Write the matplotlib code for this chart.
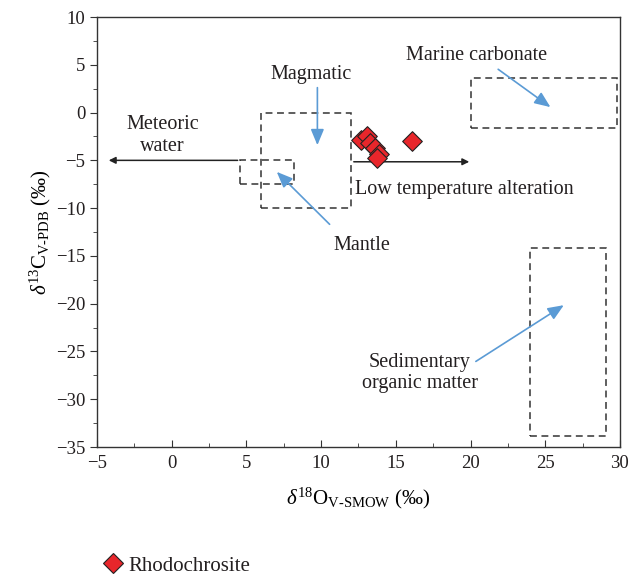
import matplotlib.pyplot as plt
from matplotlib.patches import Rectangle
from matplotlib.lines import Line2D

plt.rcParams['font.family'] = ['Liberation Serif', 'DejaVu Serif']
plt.rcParams['mathtext.fontset'] = 'custom'
plt.rcParams['mathtext.rm'] = 'Liberation Serif'
plt.rcParams['mathtext.it'] = 'Liberation Serif:italic'
plt.rcParams['text.color'] = '#231f20'

# Rhodochrosite isotope values
d18O = [12.7, 13.05, 13.3, 13.6, 13.85, 13.75, 16.1]
d13C = [-2.9, -2.5, -3.2, -3.7, -4.3, -4.8, -3.0]

# source fields (x0, x1, y0, y1)
magmatic_box = (6, 12, 0, -10)
mantle_box = (4.6, 8.2, -5.0, -7.5)
marine_box = (20, 29.8, 3.6, -1.6)
sediment_box = (24, 29.1, -14.2, -33.8)

fig = plt.figure(figsize=(6.3, 5.77), dpi=100)
ax = fig.add_axes([0.154, 0.2253, 0.83, 0.7452])

for x0, x1, y0, y1 in [magmatic_box, mantle_box, marine_box, sediment_box]:
    ax.add_patch(Rectangle((x0, min(y0, y1)), x1 - x0, abs(y1 - y0), fill=False,
                           edgecolor='#333333', linestyle=(0, (4.5, 3)), linewidth=1.1))

# black trend arrows
black = dict(arrowstyle='-|>', color='#222222', lw=1.1, mutation_scale=10)
ax.annotate('', xy=(-4.4, -5), xytext=(4.6, -5), arrowprops=black)
ax.annotate('', xy=(20.1, -5.15), xytext=(12, -5.15), arrowprops=black)

# blue label arrows
blue = dict(arrowstyle='-|>,head_length=0.6,head_width=0.25', color='#5b9bd5',
            lw=1.2, mutation_scale=16)
ax.annotate('', xy=(9.75, -3.7), xytext=(9.75, 2.9), arrowprops=blue)
ax.annotate('', xy=(25.5, 0.4), xytext=(21.7, 4.7), arrowprops=blue)
ax.annotate('', xy=(6.9, -6.0), xytext=(10.7, -11.9), arrowprops=blue)
ax.annotate('', xy=(26.4, -20.0), xytext=(20.2, -26.2), arrowprops=blue)

fs = 14.5
ax.text(9.3, 4.0, 'Magmatic', ha='center', va='center', fontsize=fs)
ax.text(20.4, 6.0, 'Marine carbonate', ha='center', va='center', fontsize=fs)
ax.text(-0.6, -2.4, 'Meteoric\nwater', ha='center', va='center', fontsize=fs, linespacing=1.15)
ax.text(12.3, -8.1, 'Low temperature alteration', ha='left', va='center', fontsize=fs)
ax.text(12.7, -13.9, 'Mantle', ha='center', va='center', fontsize=fs)
ax.text(16.6, -27.3, 'Sedimentary\norganic matter', ha='center', va='center',
        fontsize=fs, linespacing=1.15)

ax.scatter(d18O, d13C, marker='D', s=100, color='#e8262b', edgecolor='#222222',
           linewidth=0.8, zorder=5)

ax.set_xlim(-5, 30)
ax.set_ylim(-35, 10)
ax.set_xticks(range(-5, 31, 5))
ax.set_yticks(range(-35, 11, 5))
ax.set_xticks([x + 2.5 for x in range(-5, 30, 5)], minor=True)
ax.set_yticks([y + 2.5 for y in range(-35, 10, 5)], minor=True)
ax.set_xticklabels(['\u22125', '0', '5', '10', '15', '20', '25', '30'])
ax.set_yticklabels(['\u221235', '\u221230', '\u221225', '\u221220', '\u221215',
                    '\u221210', '\u22125', '0', '5', '10'])
ax.tick_params(axis='both', which='both', labelsize=13.5, labelcolor='#231f20', color='#333333')
ax.tick_params(axis='x', which='both', direction='in', pad=6)
ax.tick_params(axis='x', which='major', length=5)
ax.tick_params(axis='x', which='minor', length=3)
ax.tick_params(axis='y', which='both', direction='out')
ax.tick_params(axis='y', which='major', length=5)
ax.tick_params(axis='y', which='minor', length=3)
for sp in ax.spines.values():
    sp.set_color('#333333')
    sp.set_linewidth(1.0)

ax.set_xlabel(r'$\delta^{18}$O$_{\mathrm{V}\text{-}\mathrm{SMOW}}$ (‰)', fontsize=15, labelpad=10)
ax.set_ylabel(r'$\delta^{13}$C$_{\mathrm{V}\text{-}\mathrm{PDB}}$ (‰)', fontsize=15, labelpad=2)

handle = Line2D([], [], marker='D', linestyle='none', markersize=10,
                markerfacecolor='#e8262b', markeredgecolor='#222222', markeredgewidth=0.8)
fig.legend([handle], ['Rhodochrosite'], loc='lower left', bbox_to_anchor=(0.125, -0.03),
           frameon=False, fontsize=15, handletextpad=0.0, handlelength=1.5)

fig.savefig('out.png', dpi=100)
